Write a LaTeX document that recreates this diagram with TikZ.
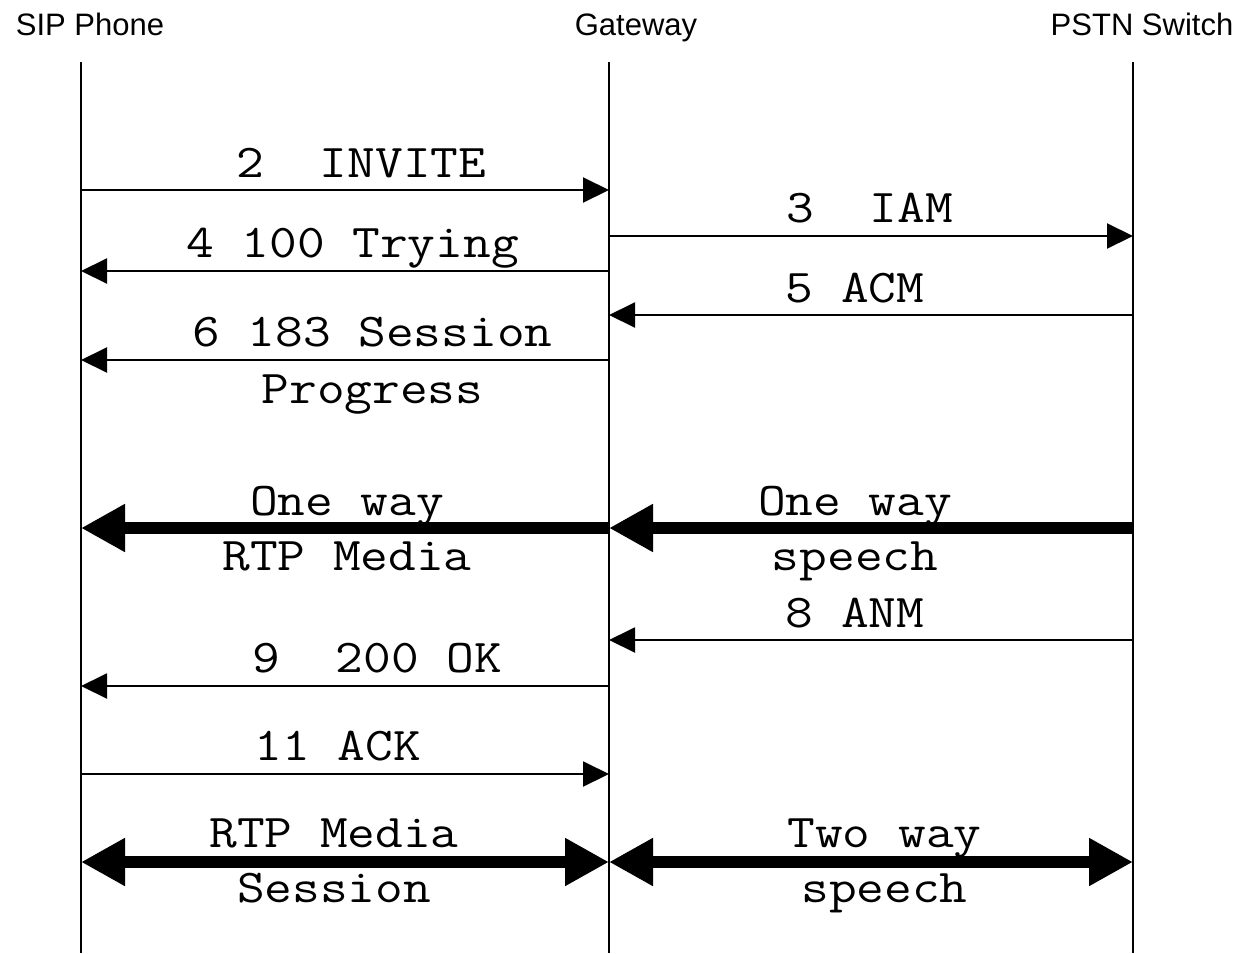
\documentclass[tikz,border=0pt]{standalone}
\usepackage{fontspec}
\setmainfont{Liberation Sans}
\newfontfamily\msgfont{Latin Modern Mono}[FakeStretch=1.145]
\usetikzlibrary{arrows.meta}
\begin{document}
\begin{tikzpicture}[x=0.5pt,y=-0.5pt,
  lifeline/.style={line width=1pt},
  msg/.style={line width=1pt,-{Triangle[length=13pt,width=12.5pt]}},
  media/.style={line width=6pt,-{Triangle[length=22pt,width=22.5pt]}},
  duplex/.style={line width=6pt,{Triangle[length=22pt,width=22.5pt]}-{Triangle[length=22pt,width=22.5pt]}},
  title/.style={font=\fontsize{15.5}{18}\selectfont,anchor=base,inner sep=0pt},
  lbl/.style={font=\msgfont\fontsize{23.5}{28}\selectfont,anchor=base,inner sep=0pt},
]
\useasboundingbox[fill=white] (0,0) rectangle (1241,953);

% participants
\node[title] (phone) at (90,35) {SIP Phone};
\node[title] (gw)    at (636,35) {Gateway};
\node[title] (sw)    at (1142,35) {PSTN Switch};

% lifelines
\coordinate (phoneTop) at (81,62);   \coordinate (phoneBot) at (81,953);
\coordinate (gwTop)    at (609,62);  \coordinate (gwBot)    at (609,953);
\coordinate (swTop)    at (1133,62); \coordinate (swBot)    at (1133,953);
\draw[lifeline] (phoneTop) -- (phoneBot);
\draw[lifeline] (gwTop) -- (gwBot);
\draw[lifeline] (swTop) -- (swBot);

% message end points on the lifelines
\foreach \n/\y in {2/190,4/271,6/360,7/528,9/686,11/774,12/862}{
  \coordinate (p\n) at (81,\y);
  \coordinate (g\n) at (609,\y);
}
\foreach \n/\y in {3/236,5/315,7/528,8/640,12/862}{
  \coordinate (gs\n) at (609,\y);
  \coordinate (s\n) at (1133,\y);
}

% signalling
\draw[msg] (p2) -- (g2);
\node[lbl] (l2) at (361.5,177) {2\ \ INVITE};

\draw[msg] (gs3) -- (s3);
\node[lbl] (l3) at (870,222) {3\ \ IAM};

\draw[msg] (g4) -- (p4);
\node[lbl] (l4) at (352.5,257) {4 100 Trying};

\draw[msg] (s5) -- (gs5);
\node[lbl] (l5) at (855,302) {5 ACM};

\draw[msg] (g6) -- (p6);
\node[lbl] (l6a) at (372.5,346) {6 183 Session};
\node[lbl] (l6b) at (372.5,403) {Progress};

% early media
\draw[media] (g7) -- (p7);
\node[lbl] (l7a) at (347,515) {One way};
\node[lbl] (l7b) at (347,570) {RTP Media};

\draw[media] (s7) -- (gs7);
\node[lbl] (l7c) at (855,515) {One way};
\node[lbl] (l7d) at (855,570) {speech};

\draw[msg] (s8) -- (gs8);
\node[lbl] (l8) at (855,627) {8 ANM};

\draw[msg] (g9) -- (p9);
\node[lbl] (l9) at (377.5,672) {9\ \ 200 OK};

\draw[msg] (p11) -- (g11);
\node[lbl] (l11) at (338,760) {11 ACK};

% established media
\draw[duplex] (p12) -- (g12);
\node[lbl] (l12a) at (334,847) {RTP Media};
\node[lbl] (l12b) at (334,902) {Session};

\draw[duplex] (gs12) -- (s12);
\node[lbl] (l12c) at (884.5,847) {Two way};
\node[lbl] (l12d) at (884.5,902) {speech};
\end{tikzpicture}
\end{document}
